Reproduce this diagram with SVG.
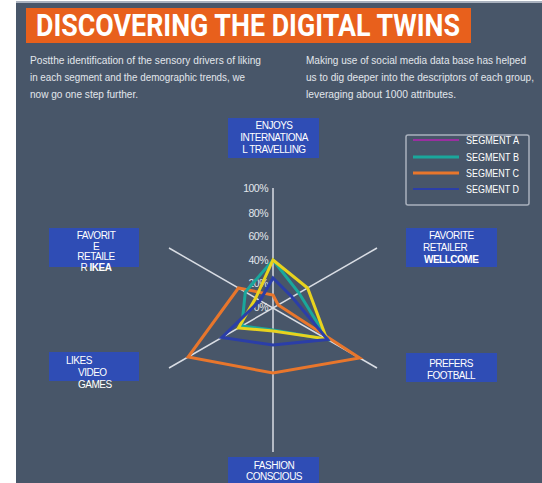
<svg xmlns="http://www.w3.org/2000/svg" width="542" height="483" viewBox="0 0 542 483">
<style>
.para{font-family:"Liberation Sans",Arial,sans-serif;font-size:10px;fill:#e2e6ec;}
.pct{font-family:"Liberation Sans",Arial,sans-serif;font-size:10.5px;fill:#e2e6ec;text-anchor:end;letter-spacing:-0.5px;}
.lbl{font-family:"Liberation Sans",Arial,sans-serif;font-size:10px;fill:#ffffff;letter-spacing:-0.5px;}
.box{fill:#2f4db5;}
.axis{stroke:#d9dde4;stroke-width:1.5;fill:none;}
.ser{fill:none;stroke-width:3;stroke-linejoin:miter;}
.leg{font-family:"Liberation Sans",Arial,sans-serif;font-size:10px;fill:#ffffff;}
</style>
<rect x="0" y="0" width="542" height="483" fill="#ffffff"/>
<rect x="16" y="1" width="526" height="2" fill="#aab2bf"/>
<rect x="16" y="3" width="526" height="480" fill="#485669"/>

<g id="title">
<rect x="26" y="8" width="445" height="35" fill="#e8601c"/>
<text x="36" y="36" font-family="Roboto, 'Liberation Sans', sans-serif" font-weight="bold" font-size="32" fill="#ffffff" textLength="424" lengthAdjust="spacingAndGlyphs">DISCOVERING THE DIGITAL TWINS</text>
</g>

<g id="intro-left">
<text class="para" x="30" y="64" textLength="231" lengthAdjust="spacingAndGlyphs">Postthe identification of the sensory drivers of liking</text>
<text class="para" x="30" y="81" textLength="215" lengthAdjust="spacingAndGlyphs">in each segment and the demographic  trends, we</text>
<text class="para" x="30" y="97.5" textLength="108" lengthAdjust="spacingAndGlyphs">now go one step further.</text>
</g>
<g id="intro-right">
<text class="para" x="306" y="64" textLength="220" lengthAdjust="spacingAndGlyphs">Making  use of social media data base has helped</text>
<text class="para" x="306" y="81" textLength="228" lengthAdjust="spacingAndGlyphs">us to dig deeper into the descriptors of each group,</text>
<text class="para" x="306" y="97.5" textLength="150" lengthAdjust="spacingAndGlyphs">leveraging  about 1000 attributes.</text>
</g>

<g id="axes">
<line class="axis" x1="273" y1="188" x2="273" y2="452"/>
<line class="axis" x1="169" y1="248" x2="377" y2="368"/>
<line class="axis" x1="169" y1="368" x2="377" y2="248"/>
</g>

<g id="scale">
<text class="pct" x="268" y="192">100%</text>
<text class="pct" x="268" y="217">80%</text>
<text class="pct" x="268" y="240">60%</text>
<text class="pct" x="268" y="264">40%</text>
<text class="pct" x="268" y="287">20%</text>
<text class="pct" x="268" y="311">0%</text>
</g>

<g id="series">
<polygon class="ser" stroke="#e8762c" points="273,295 278.2,305 359.6,358 273,373 188.1,357 238.4,288"/>
<polygon class="ser" stroke="#1aa79c" points="273,260 299,293 327.6,339.5 273,330 241.8,326 245.3,292"/>
<polygon class="ser" stroke="#e8d21e" points="273,260 307.6,288 326.7,339 273,331 238.4,328 255.7,298"/>
<polygon class="ser" stroke="#2b3ea8" points="273,278 292,297 327.6,339.5 273,345 221.9,337.5 260,300.5"/>
</g>

<g id="legend">
<rect x="406" y="135" width="123" height="70" rx="2" fill="none" stroke="#a9b1bd" stroke-width="1.5"/>
<line x1="413" y1="140" x2="459" y2="140" stroke="#9a2fa0" stroke-width="2"/>
<line x1="413" y1="157" x2="459" y2="157" stroke="#1aa79c" stroke-width="3"/>
<line x1="413" y1="173" x2="459" y2="173" stroke="#e8762c" stroke-width="3"/>
<line x1="413" y1="189" x2="459" y2="189" stroke="#2b3ea8" stroke-width="2"/>
<text class="leg" x="466" y="143.5" textLength="53" lengthAdjust="spacingAndGlyphs">SEGMENT A</text>
<text class="leg" x="466" y="160.5" textLength="53" lengthAdjust="spacingAndGlyphs">SEGMENT B</text>
<text class="leg" x="466" y="176.5" textLength="53" lengthAdjust="spacingAndGlyphs">SEGMENT C</text>
<text class="leg" x="466" y="192.5" textLength="53" lengthAdjust="spacingAndGlyphs">SEGMENT D</text>
</g>

<g id="node-travel">
<rect class="box" x="228" y="118" width="91" height="40"/>
<text class="lbl" text-anchor="middle" x="274" y="128.5">ENJOYS</text>
<text class="lbl" text-anchor="middle" x="274" y="140.5">INTERNATIONA</text>
<text class="lbl" text-anchor="middle" x="274" y="152.5">L TRAVELLING</text>
</g>

<g id="node-wellcome">
<rect class="box" x="406" y="228" width="91" height="39"/>
<text class="lbl" x="429" y="238.5">FAVORITE</text>
<text class="lbl" x="423" y="250.5">RETAILER</text>
<text class="lbl" x="424" y="262.5" font-weight="bold">WELLCOME</text>
</g>

<g id="node-football">
<rect class="box" x="406" y="353" width="91" height="29"/>
<text class="lbl" text-anchor="middle" x="451" y="366.5">PREFERS</text>
<text class="lbl" text-anchor="middle" x="451" y="378.5">FOOTBALL</text>
</g>

<g id="node-fashion">
<rect class="box" x="228" y="457" width="91" height="30"/>
<text class="lbl" text-anchor="middle" x="274" y="468.5">FASHION</text>
<text class="lbl" text-anchor="middle" x="274" y="479.5">CONSCIOUS</text>
</g>

<g id="node-games">
<rect class="box" x="49" y="352" width="90" height="29"/>
<text class="lbl" x="66" y="363.5">LIKES</text>
<text class="lbl" x="78" y="375.5">VIDEO</text>
<text class="lbl" x="78" y="387.5">GAMES</text>
</g>

<g id="node-ikea">
<rect class="box" x="49" y="228" width="90" height="39"/>
<text class="lbl" text-anchor="middle" x="96" y="238.5">FAVORIT</text>
<text class="lbl" text-anchor="middle" x="96" y="249.5">E</text>
<text class="lbl" text-anchor="middle" x="96" y="260">RETAILE</text>
<text class="lbl" text-anchor="middle" x="96" y="270.5">R <tspan font-weight="bold">IKEA</tspan></text>
</g>
</svg>
